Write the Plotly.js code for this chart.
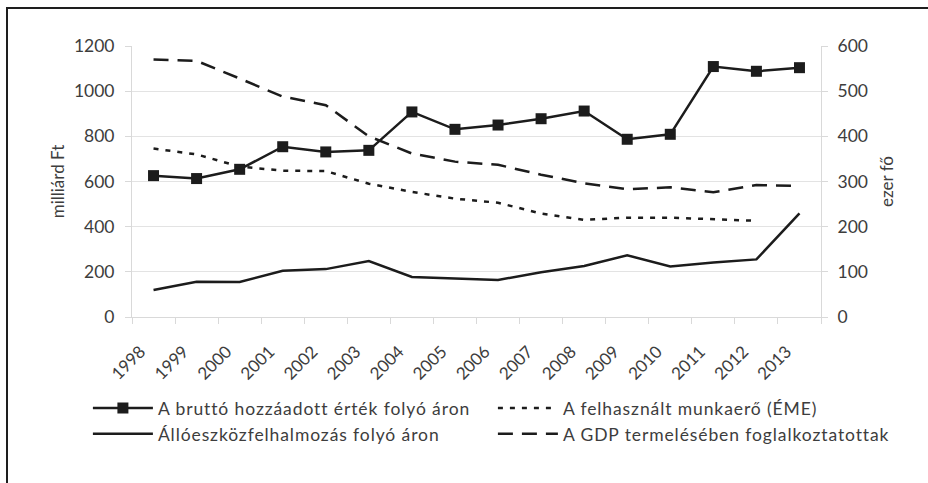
<!DOCTYPE html>
<html>
<head>
<meta charset="utf-8">
<script src="https://cdn.plot.ly/plotly-3.0.1.min.js"></script>
<style>
  html, body { margin: 0; padding: 0; background: #fff; }
  #wrap { position: relative; width: 928px; height: 483px; overflow: hidden; }
  #chart { width: 928px; height: 483px; }
  #chart .legendtext { letter-spacing: 0.9px; }
  #frame { position: absolute; left: 6px; top: 7px; width: 1000px; height: 600px;
           border-left: 2px solid #1e1e1e; border-top: 2px solid #1e1e1e; pointer-events: none; }
</style>
</head>
<body>
<div id="wrap">
  <div id="chart"></div>
  <div id="frame"></div>
</div>
<script>
const years = ['1998','1999','2000','2001','2002','2003','2004','2005','2006','2007','2008','2009','2010','2011','2012','2013'];
const bruttoHozzaadott = [626, 613, 654, 754, 731, 738, 908, 831, 850, 878, 912, 787, 809, 1109, 1088, 1104];
const alloeszkoz = [120, 156, 155, 205, 212, 248, 177, 170, 164, 198, 226, 273, 224, 241, 255, 459];
const munkaero = [373, 360, 333, 324, 323, 295, 277, 262, 253, 229, 215, 220, 220, 217, 213, null];
const gdpFoglalkoztatottak = [570, 567, 528, 488, 469, 400, 362, 344, 337, 315, 296, 283, 287, 276, 292, 290];
const leftTicks = [0, 200, 400, 600, 800, 1000, 1200];
const rightTicks = [0, 100, 200, 300, 400, 500, 600];

const names = {
  brutto: 'A bruttó hozzáadott érték folyó áron',
  munka: 'A felhasznált munkaerő (ÉME)',
  allo: 'Állóeszközfelhalmozás folyó áron',
  gdp: 'A GDP termelésében foglalkoztatottak'
};

const lineColor = '#1c1c1c';
const textColor = '#3d3d3d';
const FONT = 'Lato, "Open Sans", sans-serif';

const traces = [
  { x: years, y: bruttoHozzaadott, name: names.brutto, type: 'scatter', mode: 'lines+markers',
    line: { color: lineColor, width: 2.5 },
    marker: { symbol: 'square', size: 11, color: lineColor }, yaxis: 'y' },
  { x: years, y: munkaero, name: names.munka, type: 'scatter', mode: 'lines',
    line: { color: lineColor, width: 2.5, dash: '5px,7px' }, yaxis: 'y2' },
  { x: years, y: alloeszkoz, name: names.allo, type: 'scatter', mode: 'lines',
    line: { color: lineColor, width: 2.5 }, yaxis: 'y' },
  { x: years, y: gdpFoglalkoztatottak, name: names.gdp, type: 'scatter', mode: 'lines',
    line: { color: lineColor, width: 2.5, dash: '15px,9px' }, yaxis: 'y2' }
];

const layout = {
  width: 928, height: 483,
  margin: { l: 132, r: 107, t: 46, b: 166 },
  paper_bgcolor: '#ffffff', plot_bgcolor: '#ffffff',
  font: { family: FONT, size: 17, color: textColor },
  showlegend: true,
  legend: {
    orientation: 'h', xref: 'paper', yref: 'paper',
    x: -0.064, y: -0.27, xanchor: 'left', yanchor: 'top',
    entrywidth: 330, entrywidthmode: 'pixels', itemwidth: 60,
    font: { family: FONT, size: 17.5, color: textColor },
    bgcolor: 'rgba(0,0,0,0)', traceorder: 'normal'
  },
  xaxis: {
    type: 'category', categoryorder: 'array', categoryarray: years,
    range: [-0.5, 15.5],
    showgrid: false, showline: true, linecolor: '#d9d9d9', linewidth: 1,
    ticks: 'outside', ticklen: 6, tickcolor: '#d9d9d9', tickson: 'boundaries',
    tickangle: -45, tickfont: { family: FONT, size: 17, color: textColor },
    ticklabelshift: -13, ticklabelstandoff: 17,
    zeroline: false, fixedrange: true
  },
  yaxis: {
    range: [0, 1200], tickvals: leftTicks, ticktext: leftTicks.map(String),
    showgrid: true, gridcolor: '#e3e3e3', gridwidth: 1,
    showline: true, linecolor: '#d9d9d9', linewidth: 1,
    ticks: 'outside', ticklen: 6, tickcolor: '#d9d9d9',
    ticklabelstandoff: 7,
    tickfont: { family: FONT, size: 17.5, color: textColor },
    zeroline: false, automargin: true,
    title: { text: 'milliárd Ft', font: { family: FONT, size: 17, color: textColor }, standoff: 4 }
  },
  yaxis2: {
    overlaying: 'y', side: 'right',
    range: [0, 600], tickvals: rightTicks, ticktext: rightTicks.map(String),
    showgrid: false, showline: true, linecolor: '#d9d9d9', linewidth: 1,
    ticks: 'outside', ticklen: 6, tickcolor: '#d9d9d9',
    ticklabelstandoff: 6,
    tickfont: { family: FONT, size: 17.5, color: textColor },
    zeroline: false, automargin: true,
    title: { text: 'ezer fő', font: { family: FONT, size: 17, color: textColor }, standoff: 14 }
  }
};

Plotly.newPlot('chart', traces, layout, { displayModeBar: false, staticPlot: true });
</script>
</body>
</html>
